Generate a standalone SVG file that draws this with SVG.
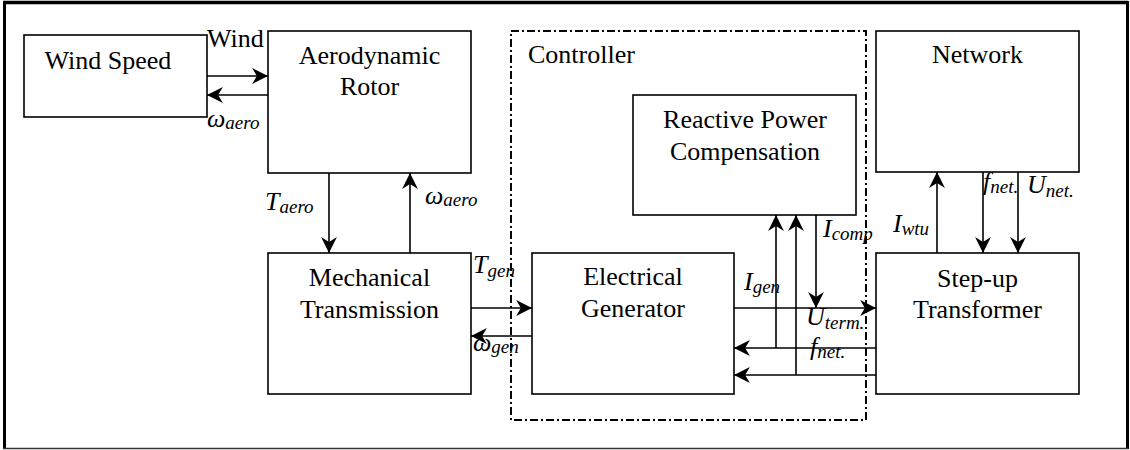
<svg xmlns="http://www.w3.org/2000/svg" width="1130" height="450" viewBox="0 0 1130 450">
<style>
text{font-family:"Liberation Serif","Times New Roman",serif;fill:#000}
.t{font-size:26px;text-anchor:middle}
.l{font-size:26px}
.v{font-size:26px;font-style:italic}
.s{font-size:19px;font-style:italic}
.box{fill:#fff;stroke:#000;stroke-width:1.6}
.c line{stroke:#000;stroke-width:1.6;fill:none}
.a{marker-end:url(#ah)}
</style>
<defs>
<marker id="ah" markerUnits="userSpaceOnUse" markerWidth="18" markerHeight="18" viewBox="-16 -8 17 16" refX="0" refY="0" orient="auto">
<path d="M0,0 L-15,-7.5 L-10.5,0 L-15,7.5 z" fill="#000"/>
</marker>
</defs>
<rect width="1130" height="450" fill="#fff"/>
<g id="border">
<line x1="3" y1="2.5" x2="1128" y2="2.5" stroke="#000" stroke-width="3.5"/>
<line x1="4.5" y1="1" x2="4.5" y2="449" stroke="#000" stroke-width="3"/>
<line x1="1127.5" y1="1" x2="1127.5" y2="449" stroke="#000" stroke-width="3"/>
<line x1="3" y1="448.5" x2="1128" y2="448.5" stroke="#333" stroke-width="1.5"/>
</g>
<g id="controller">
<rect x="511" y="31" width="355" height="389" fill="none" stroke="#000" stroke-width="2" stroke-dasharray="8,3,2,3"/>
<text class="l" x="528" y="63">Controller</text>
</g>
<g id="wind-speed">
<rect class="box" x="24" y="35" width="183" height="82"/>
<text class="t" x="108" y="69">Wind Speed</text>
</g>
<g id="aerodynamic-rotor">
<rect class="box" x="268" y="31" width="203" height="142"/>
<text class="t" x="369.5" y="64">Aerodynamic</text>
<text class="t" x="369.5" y="95">Rotor</text>
</g>
<g id="mechanical-transmission">
<rect class="box" x="268" y="253" width="203" height="141"/>
<text class="t" x="369.5" y="286">Mechanical</text>
<text class="t" x="369.5" y="318">Transmission</text>
</g>
<g id="electrical-generator">
<rect class="box" x="532" y="253" width="202" height="141"/>
<text class="t" x="633" y="285">Electrical</text>
<text class="t" x="633" y="317">Generator</text>
</g>
<g id="reactive-power-compensation">
<rect class="box" x="633" y="95" width="223" height="120"/>
<text class="t" x="745" y="128">Reactive Power</text>
<text class="t" x="745" y="160">Compensation</text>
</g>
<g id="network">
<rect class="box" x="876" y="31" width="203" height="141"/>
<text class="t" x="977.5" y="63">Network</text>
</g>
<g id="step-up-transformer">
<rect class="box" x="876" y="253" width="203" height="141"/>
<text class="t" x="977.5" y="287">Step-up</text>
<text class="t" x="977.5" y="318">Transformer</text>
</g>
<g id="connectors" class="c">
<line class="a" x1="207" y1="76" x2="268" y2="76"/>
<line class="a" x1="268" y1="95" x2="207" y2="95"/>
<line class="a" x1="329" y1="173" x2="329" y2="253"/>
<line class="a" x1="410" y1="253" x2="410" y2="173"/>
<line class="a" x1="471" y1="308" x2="532" y2="308"/>
<line class="a" x1="532" y1="336" x2="471" y2="336"/>
<line class="a" x1="734" y1="308" x2="876" y2="308"/>
<line class="a" x1="876" y1="348" x2="734" y2="348"/>
<line class="a" x1="876" y1="375" x2="734" y2="375"/>
<line class="a" x1="776" y1="348" x2="776" y2="215"/>
<line class="a" x1="796" y1="375" x2="796" y2="215"/>
<line class="a" x1="816" y1="215" x2="816" y2="308"/>
<line class="a" x1="937" y1="253" x2="937" y2="172"/>
<line class="a" x1="983" y1="172" x2="983" y2="253"/>
<line class="a" x1="1018" y1="172" x2="1018" y2="253"/>
</g>
<g id="labels">
<text class="l" x="207" y="47">Wind</text>
<text x="207" y="127"><tspan class="v">ω</tspan><tspan class="s" dy="2">aero</tspan></text>
<text x="265" y="210"><tspan class="v">T</tspan><tspan class="s" dy="3">aero</tspan></text>
<text x="425" y="204"><tspan class="v">ω</tspan><tspan class="s" dy="2">aero</tspan></text>
<text x="473" y="273"><tspan class="v">T</tspan><tspan class="s" dy="4">gen</tspan></text>
<text x="473" y="351"><tspan class="v">ω</tspan><tspan class="s" dy="2">gen</tspan></text>
<text x="744" y="290"><tspan class="v">I</tspan><tspan class="s" dy="3">gen</tspan></text>
<text x="823" y="237"><tspan class="v">I</tspan><tspan class="s" dy="3">comp</tspan></text>
<text x="806" y="325"><tspan class="v">U</tspan><tspan class="s" dy="4">term.</tspan></text>
<text x="810" y="355"><tspan class="v">f</tspan><tspan class="s" dy="3">net.</tspan></text>
<text x="893" y="232"><tspan class="v">I</tspan><tspan class="s" dy="3">wtu</tspan></text>
<text x="983" y="190"><tspan class="v">f</tspan><tspan class="s" dy="3">net.</tspan></text>
<text x="1027" y="193"><tspan class="v">U</tspan><tspan class="s" dy="4">net.</tspan></text>
</g>
</svg>
